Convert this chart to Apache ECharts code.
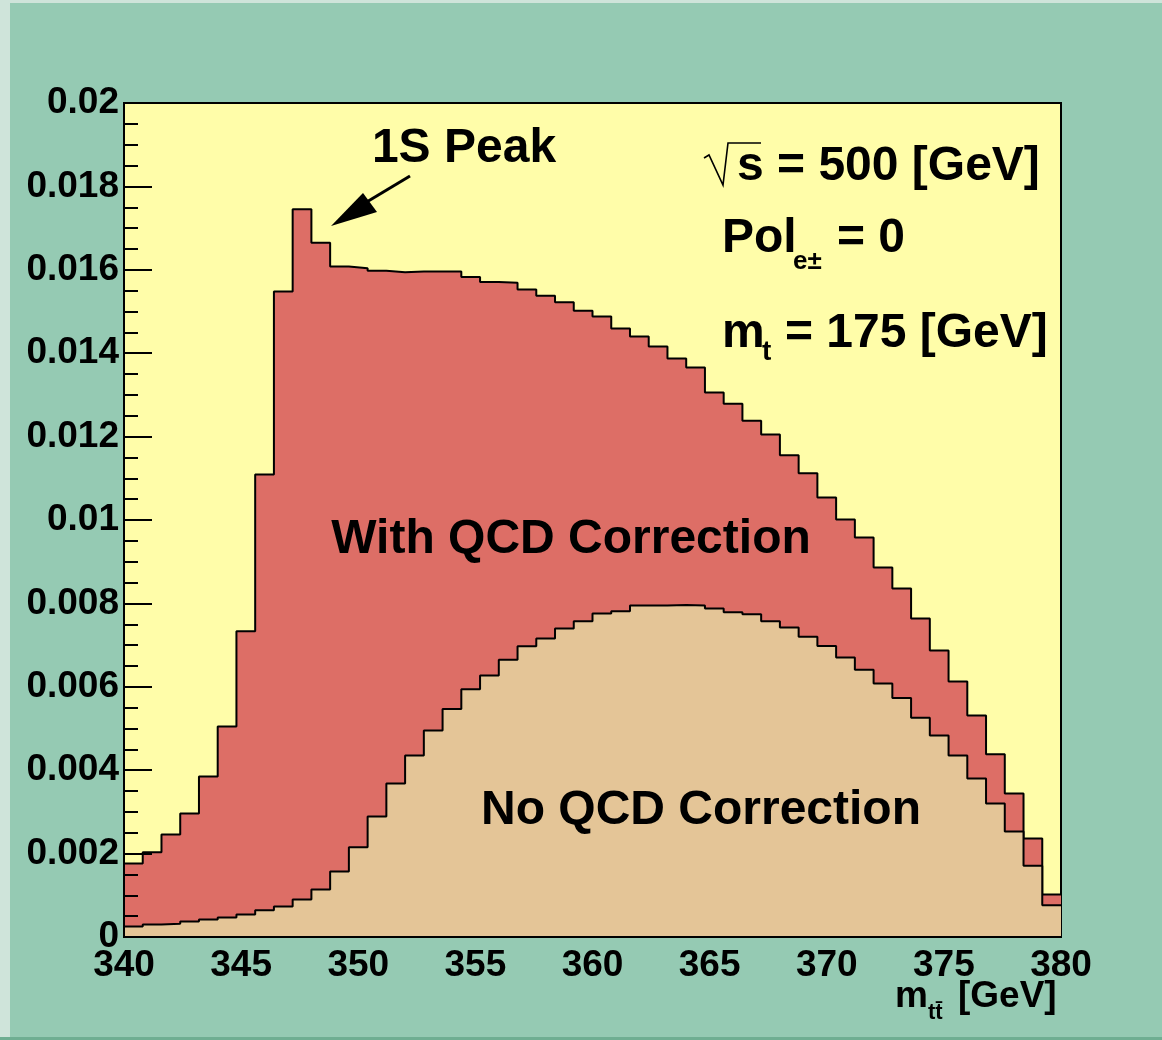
<!DOCTYPE html>
<html>
<head>
<meta charset="utf-8">
<script src="https://cdn.jsdelivr.net/npm/echarts@6/dist/echarts.min.js"></script>
<style>
  html, body { margin: 0; padding: 0; }
  #chart { width: 1162px; height: 1040px; }
</style>
</head>
<body>
<div id="chart"></div>
<script>
var myChart = echarts.init(document.getElementById('chart'));

// histogram binning: 50 bins of 0.8 GeV from 340 to 380
var binStart = 340;
var binWidth = 0.8;

// bin contents
var withQCD = [0.00176, 0.00203, 0.00246, 0.00296, 0.00385, 0.00505, 0.00733, 0.01109, 0.01548, 0.01745,
               0.01665, 0.01608, 0.01604, 0.01598, 0.01594, 0.01596, 0.01596, 0.01596, 0.01583, 0.01571,
               0.01569, 0.01553, 0.01538, 0.01522, 0.01502, 0.01488, 0.01459, 0.0144, 0.01416, 0.01387,
               0.01366, 0.01306, 0.01279, 0.01238, 0.01205, 0.01155, 0.01112, 0.01054, 0.01001, 0.00958,
               0.00886, 0.00836, 0.00764, 0.00687, 0.00613, 0.00531, 0.00438, 0.00344, 0.00236, 0.00102];
var noQCD = [0.00025, 0.0003, 0.00032, 0.00037, 0.00042, 0.00047, 0.00054, 0.00064, 0.00073, 0.0009,
             0.00114, 0.00157, 0.00215, 0.00289, 0.00368, 0.00435, 0.00495, 0.00547, 0.00594, 0.00627,
             0.00665, 0.00697, 0.00716, 0.0074, 0.00757, 0.00776, 0.00781, 0.00795, 0.00795, 0.00796,
             0.00795, 0.00788, 0.00779, 0.00774, 0.00757, 0.00742, 0.0072, 0.00698, 0.0067, 0.00641,
             0.00608, 0.00573, 0.00526, 0.00483, 0.00435, 0.0038, 0.0032, 0.00253, 0.00171, 0.00076];

var xTicks = [340, 345, 350, 355, 360, 365, 370, 375, 380];

// step points: left edge of every bin, plus the closing right edge
function histPoints(vals) {
    var pts = [];
    for (var i = 0; i < vals.length; i++) {
        pts.push([binStart + i * binWidth, vals[i]]);
    }
    pts.push([binStart + vals.length * binWidth, vals[vals.length - 1]]);
    return pts;
}

var FONT = '"Liberation Sans", Arial, Helvetica, sans-serif';

function txt(x, y, s, size, align) {
    return {
        type: 'text', x: x, y: y, z: 20, silent: true,
        style: {
            text: s, fontSize: size, fontWeight: 'bold', fontFamily: FONT,
            fill: '#000', align: align || 'left', verticalAlign: 'middle'
        }
    };
}

option = {
    backgroundColor: '#95cab3',
    animation: false,
    grid: {
        left: 124, top: 103, width: 937, height: 834,
        show: true, backgroundColor: '#fffda9', borderColor: '#000', borderWidth: 2
    },
    xAxis: {
        type: 'value', min: 340, max: 380, interval: 5, z: 10,
        axisLine: { show: true, onZero: false, lineStyle: { color: '#000', width: 2 } },
        axisTick: { show: false },
        splitLine: { show: false },
        axisLabel: {
            margin: 10, color: '#000', fontSize: 37, fontWeight: 'bold', fontFamily: FONT,
            formatter: function (v) { return xTicks.indexOf(v) >= 0 ? String(v) : ''; }
        }
    },
    yAxis: {
        type: 'value', min: 0, max: 0.02, interval: 0.002, z: 10,
        axisLine: { show: true, lineStyle: { color: '#000', width: 2 } },
        axisTick: { show: true, inside: true, length: 28, lineStyle: { color: '#000', width: 2 } },
        minorTick: { show: true, splitNumber: 4, length: 14, lineStyle: { color: '#000', width: 2 } },
        splitLine: { show: false },
        axisLabel: {
            margin: 5, color: '#000', fontSize: 37, fontWeight: 'bold', fontFamily: FONT,
            formatter: function (v) { return String(+v.toFixed(3)); }
        }
    },
    series: [
        {
            name: 'With QCD Correction',
            type: 'line', step: 'end', symbol: 'none', z: 2,
            lineStyle: { color: '#000', width: 2 },
            areaStyle: { color: '#dd6e66', opacity: 1 },
            data: histPoints(withQCD)
        },
        {
            name: 'No QCD Correction',
            type: 'line', step: 'end', symbol: 'none', z: 3,
            lineStyle: { color: '#000', width: 2 },
            areaStyle: { color: '#e4c597', opacity: 1 },
            data: histPoints(noQCD)
        }
    ],
    graphic: [
        // canvas bevel
        { type: 'rect', silent: true, z: 1, shape: { x: 0, y: 0, width: 1162, height: 3 }, style: { fill: '#cfe4da' } },
        { type: 'rect', silent: true, z: 1, shape: { x: 0, y: 0, width: 10, height: 1040 }, style: { fill: '#cfe4da' } },
        { type: 'rect', silent: true, z: 1, shape: { x: 0, y: 1037, width: 1162, height: 3 }, style: { fill: '#6fae92' } },

        txt(464, 149, '1S Peak', 48, 'center'),
        { type: 'line', silent: true, z: 20, shape: { x1: 410, y1: 176, x2: 360, y2: 206 }, style: { stroke: '#000', lineWidth: 3 } },
        { type: 'polygon', silent: true, z: 20, shape: { points: [[331, 226], [363, 193], [377, 212]] }, style: { fill: '#000' } },

        { type: 'polyline', silent: true, z: 20, shape: { points: [[704, 158], [709, 155], [723, 185], [728, 143], [761, 143]] }, style: { stroke: '#000', lineWidth: 1.6, fill: null } },
        txt(737, 167, 's = 500 [GeV]', 48),
        txt(722, 239, 'Pol', 48),
        txt(793, 262, 'e\u00b1', 26),
        txt(837, 239, '= 0', 48),
        txt(722, 334, 'm', 48),
        txt(762, 352, 't', 28),
        txt(785, 334, '= 175 [GeV]', 48),

        txt(571, 540, 'With QCD Correction', 48, 'center'),
        txt(701, 811, 'No QCD Correction', 48, 'center'),

        txt(895, 997, 'm', 37),
        txt(928, 1013, 'tt\u0304', 22),
        txt(958, 997, '[GeV]', 37)
    ]
};
myChart.setOption(option);
</script>
</body>
</html>
